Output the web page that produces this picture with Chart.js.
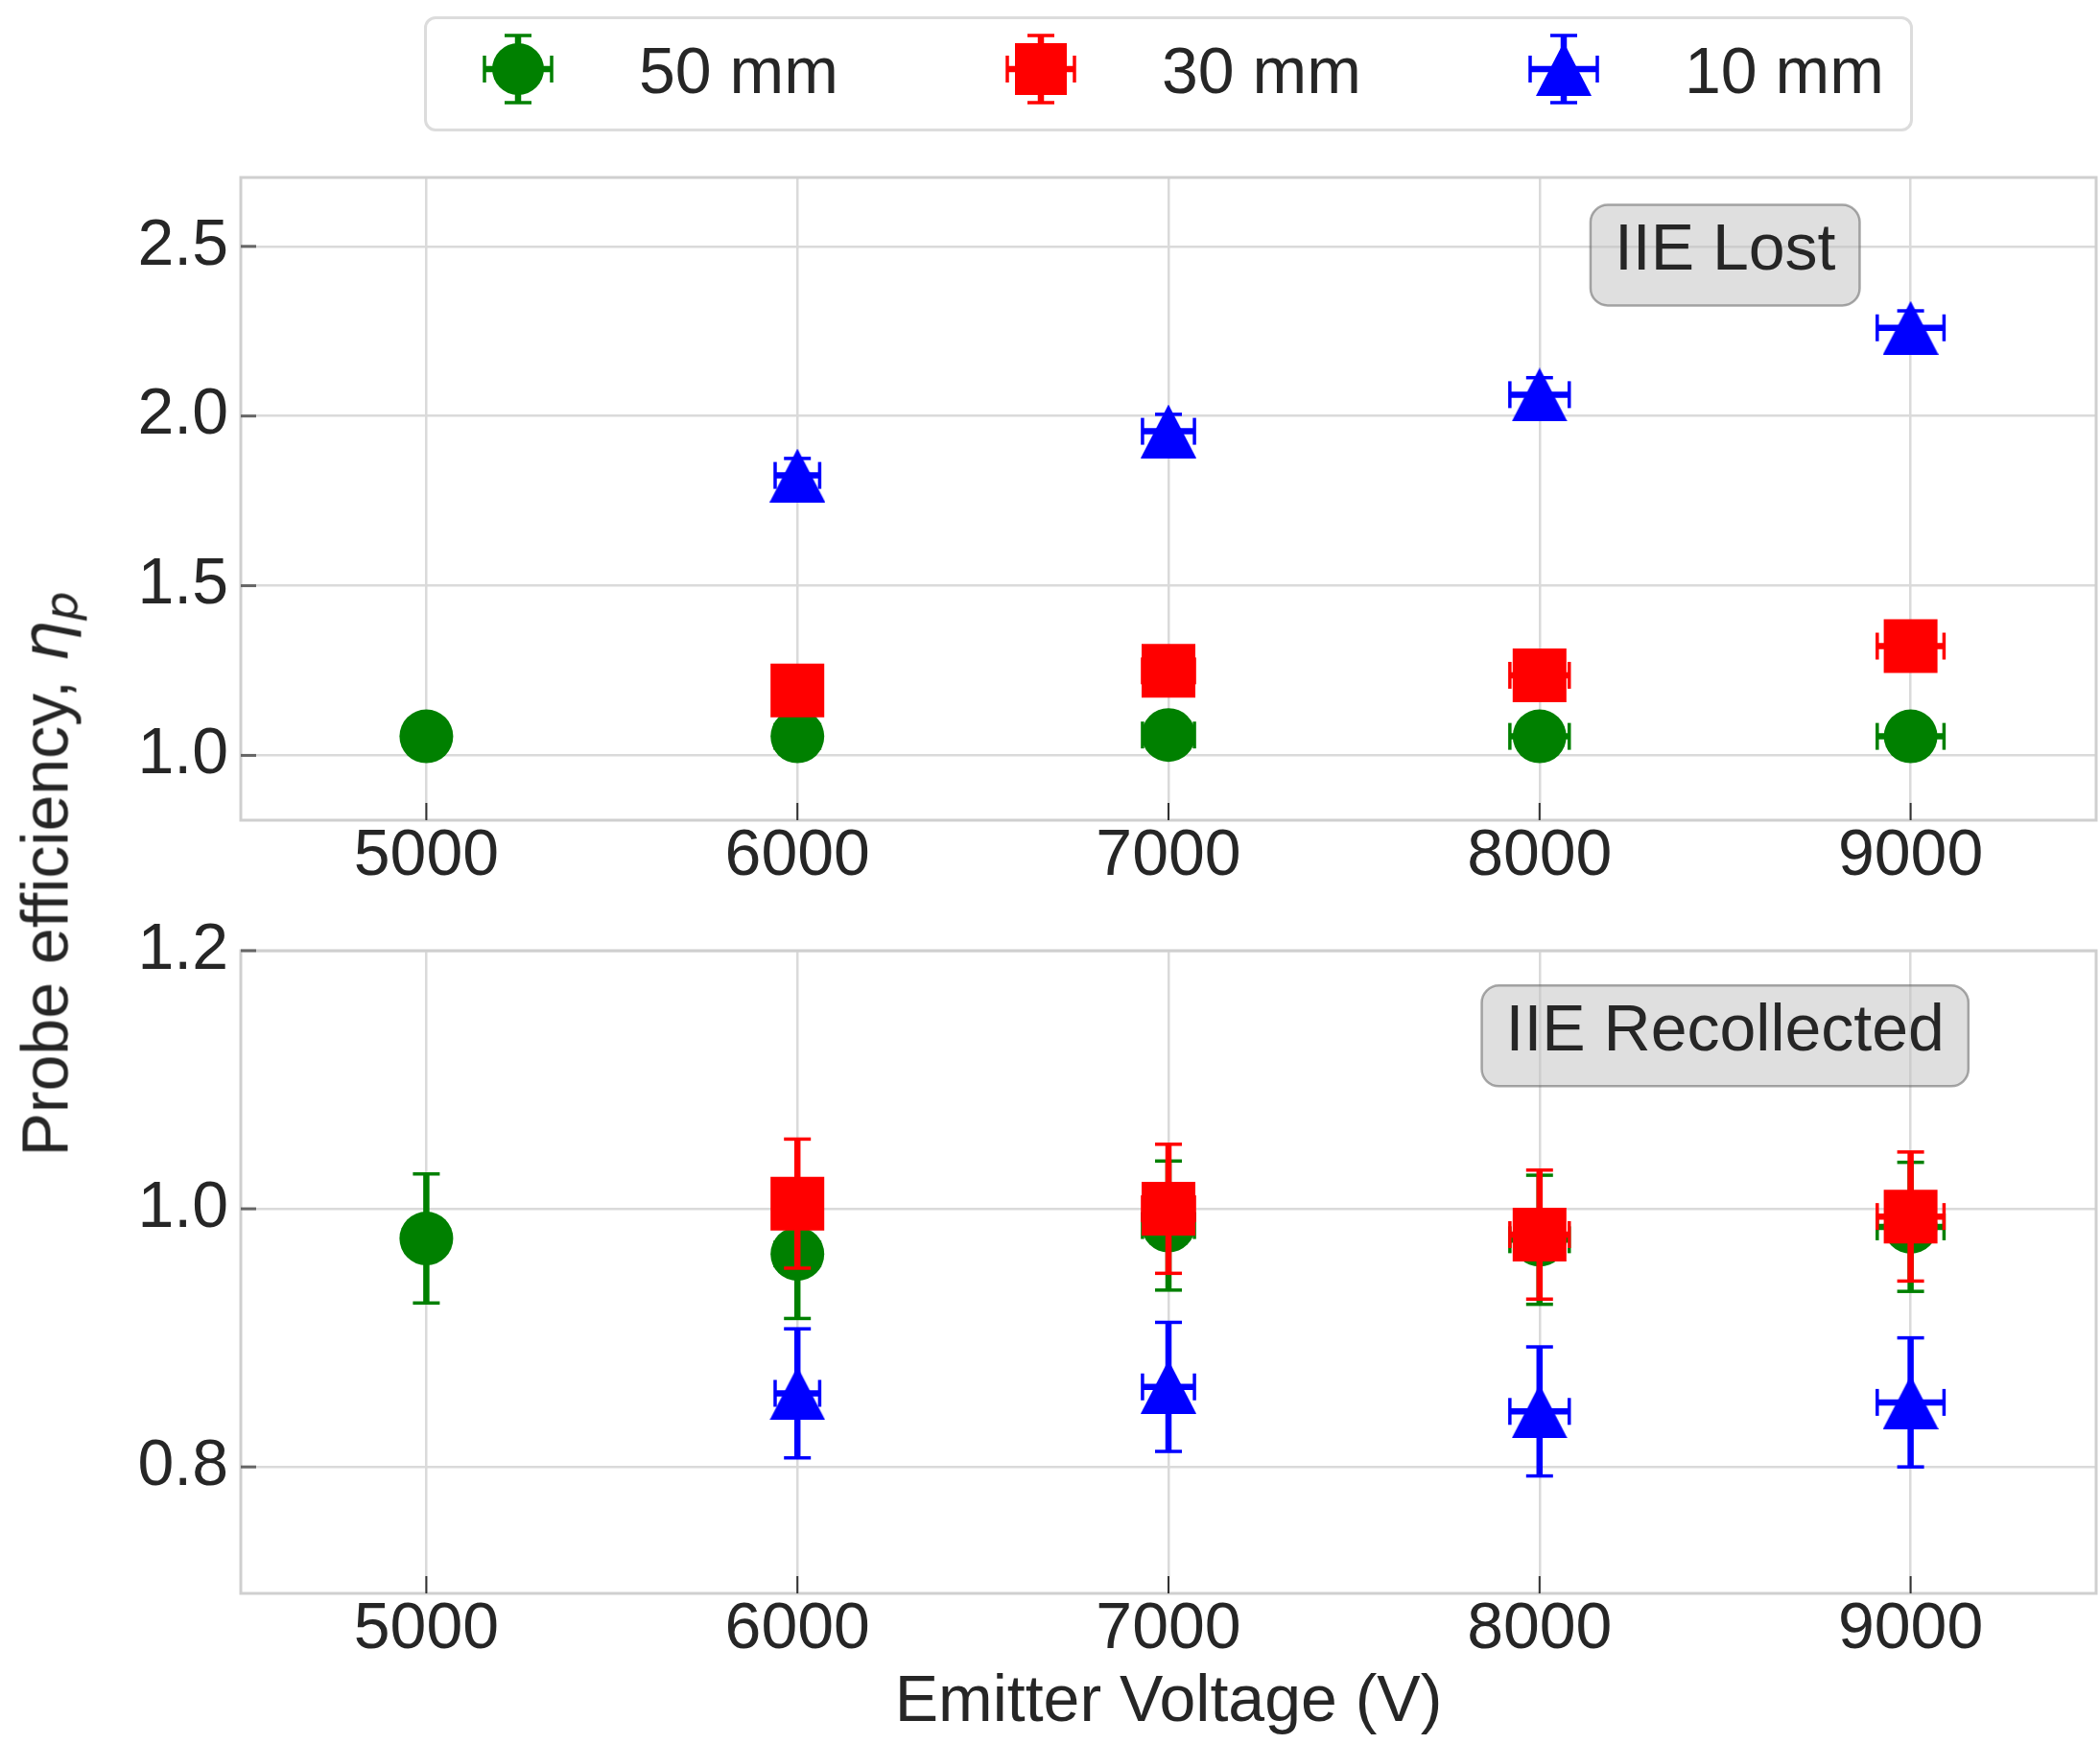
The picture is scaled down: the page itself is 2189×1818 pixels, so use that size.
<!DOCTYPE html>
<html>
<head>
<meta charset="utf-8">
<title>Probe efficiency vs emitter voltage</title>
<script src="https://cdn.jsdelivr.net/npm/chart.js@4.4.1/dist/chart.umd.min.js"></script>
<style>
    body {
        margin: 0;
        background: #fff;
        width: 2189px;
        height: 1818px;
        position: relative;
        overflow: hidden;
        font-family: "Liberation Sans", Arial, sans-serif;
        color: #262626;
    }
    canvas.panel { position: absolute; left: 0; }
    #lostChart { top: 0; }
    #recolChart { top: 940px; }
    #legend {
        position: absolute;
        left: 442px;
        top: 17px;
        width: 1552px;
        height: 120px;
        box-sizing: border-box;
        border: 3px solid #dcdcdc;
        border-radius: 12px;
        background: #fff;
    }
    #legend canvas, #legend span { position: absolute; }
    #legend span { font-size: 68px; line-height: 1; white-space: nowrap; }
    #ylabel {
        position: absolute;
        left: 47px;
        top: 911px;
        transform: translate(-50%, -50%) rotate(-90deg);
        font-size: 68px;
        line-height: 1;
        white-space: nowrap;
    }
    #ylabel .math { font-family: "DejaVu Sans", sans-serif; font-style: italic; }
    #ylabel sub { font-size: 48px; vertical-align: -10px; line-height: 0; }
</style>
</head>
<body>
<div id="legend"></div>
<canvas id="lostChart" class="panel" width="2189" height="940"></canvas>
<canvas id="recolChart" class="panel" width="2189" height="878"></canvas>
<div id="ylabel">Probe efficiency, <span class="math">η<sub>p</sub></span></div>

<script>
// Emitter voltage (V) for each probe distance
const volts50 = [5000, 6000, 7000, 8000, 9000];
const volts30 = [6000, 7000, 8000, 9000];
const volts10 = [6000, 7000, 8000, 9000];

// Top panel: IIE Lost
const lost50 = [1.056, 1.056, 1.060, 1.056, 1.056];
const lost30 = [1.191, 1.249, 1.236, 1.322];
const lost10 = [1.825, 1.955, 2.063, 2.260];

// Bottom panel: IIE Recollected
const recol50 = [0.977, 0.965, 0.987, 0.976, 0.986];
const recol30 = [1.004, 1.000, 0.980, 0.994];
const recol10 = [0.857, 0.862, 0.843, 0.850];

// Error bars (voltage +-, efficiency +-)
const voltErr50 = [50, 60, 70, 80, 90];
const voltErr = [60, 70, 80, 90];
const effErr50 = [0.05, 0.05, 0.05, 0.05, 0.05];
const effErr = [0.05, 0.05, 0.05, 0.05];

// Tick labels
const xTicks = [5000, 6000, 7000, 8000, 9000];
const yTicksLost = [1.0, 1.5, 2.0, 2.5];
const yTicksRecol = [0.8, 1.0, 1.2];

const seriesNames = ['50 mm', '30 mm', '10 mm'];
const seriesColors = ['green', 'red', 'blue'];

const FONT = '"Liberation Sans", Arial, sans-serif';
const TEXT = '#262626';

Chart.defaults.font.family = FONT;
Chart.defaults.font.size = 68;
Chart.defaults.color = TEXT;

function toPoints(xs, ys) {
    return xs.map((x, i) => ({ x: x, y: ys[i] }));
}

// matplotlib-style '^' marker, centred on its bounding box
function makeTriangle(color) {
    const c = document.createElement('canvas');
    c.width = 58;
    c.height = 56;
    const g = c.getContext('2d');
    g.fillStyle = color;
    g.beginPath();
    g.moveTo(29, 0);
    g.lineTo(58, 56);
    g.lineTo(0, 56);
    g.closePath();
    g.fill();
    return c;
}
const triangleBlue = makeTriangle('blue');

function seg(ctx, x0, y0, x1, y1) {
    ctx.beginPath();
    ctx.moveTo(x0, y0);
    ctx.lineTo(x1, y1);
    ctx.stroke();
}

function roundRectPath(ctx, x, y, w, h, r) {
    ctx.beginPath();
    ctx.moveTo(x + r, y);
    ctx.lineTo(x + w - r, y);
    ctx.arcTo(x + w, y, x + w, y + r, r);
    ctx.lineTo(x + w, y + h - r);
    ctx.arcTo(x + w, y + h, x + w - r, y + h, r);
    ctx.lineTo(x + r, y + h);
    ctx.arcTo(x, y + h, x, y + h - r, r);
    ctx.lineTo(x, y + r);
    ctx.arcTo(x, y, x + r, y, r);
    ctx.closePath();
}

const CAP = 14;

function drawCross(ctx, px, py, x0, x1, y0, y1) {
    ctx.lineWidth = 6.5;
    seg(ctx, px, y0, px, y1);
    seg(ctx, x0, py, x1, py);
    ctx.lineWidth = 3.5;
    seg(ctx, px - CAP, y0, px + CAP, y0);
    seg(ctx, px - CAP, y1, px + CAP, y1);
    seg(ctx, x0, py - CAP, x0, py + CAP);
    seg(ctx, x1, py - CAP, x1, py + CAP);
}

// Error bars drawn just before each dataset's markers
const errorBarPlugin = {
    id: 'errorBars',
    beforeDatasetDraw(chart, args) {
        const ds = chart.data.datasets[args.index];
        if (!ds.xErr) return;
        const ctx = chart.ctx;
        const xs = chart.scales.x, ys = chart.scales.y;
        ctx.save();
        ctx.strokeStyle = ds.barColor;
        ds.data.forEach((p, i) => {
            const px = xs.getPixelForValue(p.x);
            const py = ys.getPixelForValue(p.y);
            drawCross(ctx, px, py,
                xs.getPixelForValue(p.x - ds.xErr[i]), xs.getPixelForValue(p.x + ds.xErr[i]),
                ys.getPixelForValue(p.y - ds.yErr[i]), ys.getPixelForValue(p.y + ds.yErr[i]));
        });
        ctx.restore();
    }
};

// Axes frame and inward tick marks
const framePlugin = {
    id: 'frame',
    beforeDatasetsDraw(chart) {
        const ctx = chart.ctx;
        const a = chart.chartArea;
        const xs = chart.scales.x, ys = chart.scales.y;
        ctx.save();
        ctx.strokeStyle = '#cfcfcf';
        ctx.lineWidth = 3;
        ctx.strokeRect(a.left, a.top, a.right - a.left, a.bottom - a.top);
        ctx.strokeStyle = '#333';
        ctx.lineWidth = 2;
        xs.ticks.forEach(t => {
            const px = xs.getPixelForValue(t.value);
            seg(ctx, px, a.bottom, px, a.bottom - 18);
        });
        ctx.strokeStyle = '#666';
        ctx.lineWidth = 3;
        ys.ticks.forEach(t => {
            const py = ys.getPixelForValue(t.value);
            seg(ctx, a.left, py, a.left + 16, py);
        });
        ctx.restore();
    }
};

// Rounded grey label box inside a panel
const boxLabelPlugin = {
    id: 'boxLabel',
    afterDatasetsDraw(chart, args, opts) {
        if (!opts.text) return;
        const ctx = chart.ctx;
        const cx = chart.scales.x.getPixelForValue(opts.x);
        const cy = chart.scales.y.getPixelForValue(opts.y);
        ctx.save();
        ctx.font = '68px ' + FONT;
        const w = ctx.measureText(opts.text).width + 50;
        const h = 105;
        roundRectPath(ctx, cx - w / 2, cy - h / 2, w, h, 18);
        ctx.fillStyle = 'rgba(192, 192, 192, 0.5)';
        ctx.fill();
        ctx.strokeStyle = 'rgba(100, 100, 100, 0.55)';
        ctx.lineWidth = 2.5;
        ctx.stroke();
        ctx.fillStyle = TEXT;
        ctx.textAlign = 'center';
        ctx.textBaseline = 'middle';
        ctx.fillText(opts.text, cx, cy - 4);
        ctx.restore();
    }
};

function buildDatasets(y50, y30, y10) {
    // reverse order so that 10 mm ends up drawn on top, as in the original
    return [
        {
            label: seriesNames[2],
            data: toPoints(volts10, y10),
            xErr: voltErr, yErr: effErr,
            barColor: seriesColors[2],
            backgroundColor: seriesColors[2],
            pointStyle: triangleBlue,
            pointRadius: 29,
            borderWidth: 0
        },
        {
            label: seriesNames[1],
            data: toPoints(volts30, y30),
            xErr: voltErr, yErr: effErr,
            barColor: seriesColors[1],
            backgroundColor: seriesColors[1],
            pointStyle: 'rect',
            pointRadius: 39.6,
            borderWidth: 0
        },
        {
            label: seriesNames[0],
            data: toPoints(volts50, y50),
            xErr: voltErr50, yErr: effErr50,
            barColor: seriesColors[0],
            backgroundColor: seriesColors[0],
            pointStyle: 'circle',
            pointRadius: 28,
            borderWidth: 0
        }
    ];
}

function panelOptions(cfg) {
    return {
        responsive: false,
        animation: false,
        layout: {
            autoPadding: false,
            padding: { top: cfg.padTop, right: 4, left: 0, bottom: 0 }
        },
        plugins: {
            legend: { display: false },
            tooltip: { enabled: false },
            boxLabel: cfg.label
        },
        scales: {
            x: {
                type: 'linear',
                min: 4500,
                max: 9500,
                afterBuildTicks: s => { s.ticks = xTicks.map(v => ({ value: v })); },
                afterFit: s => {
                    s.height = cfg.xHeight;
                    s.paddingLeft = 0;
                    s.paddingRight = 0;
                },
                grid: { color: '#dadada', lineWidth: 2.5, drawTicks: false },
                border: { display: false },
                ticks: {
                    padding: 4,
                    maxRotation: 0,
                    font: { size: 68, lineHeight: 1 },
                    color: TEXT,
                    callback: v => String(v)
                },
                title: cfg.xTitle ? {
                    display: true,
                    text: 'Emitter Voltage (V)',
                    color: TEXT,
                    font: { size: 68, lineHeight: 1 },
                    padding: { top: 0, bottom: 9 }
                } : { display: false }
            },
            y: {
                type: 'linear',
                min: cfg.yMin,
                max: cfg.yMax,
                afterBuildTicks: s => { s.ticks = cfg.yTicks.map(v => ({ value: v })); },
                afterFit: s => {
                    s.width = 251;
                    s.paddingTop = 0;
                    s.paddingBottom = 0;
                },
                grid: { color: '#dadada', lineWidth: 2.5, drawTicks: false },
                border: { display: false },
                ticks: {
                    padding: 13,
                    font: { size: 68, lineHeight: 1 },
                    color: TEXT,
                    callback: v => v.toFixed(1)
                }
            }
        }
    };
}

const plugins = [framePlugin, errorBarPlugin, boxLabelPlugin];

const lostChart = new Chart(document.getElementById('lostChart'), {
    type: 'scatter',
    data: { datasets: buildDatasets(lost50, lost30, lost10) },
    options: panelOptions({
        padTop: 185, xHeight: 85, yMin: 0.809, yMax: 2.703, yTicks: yTicksLost,
        xTitle: false,
        label: { text: 'IIE Lost', x: 8500, y: 2.474 }
    }),
    plugins: plugins
});

const recolChart = new Chart(document.getElementById('recolChart'), {
    type: 'scatter',
    data: { datasets: buildDatasets(recol50, recol30, recol10) },
    options: panelOptions({
        padTop: 51, xHeight: 157, yMin: 0.702, yMax: 1.2, yTicks: yTicksRecol,
        xTitle: true,
        label: { text: 'IIE Recollected', x: 8500, y: 1.134 }
    }),
    plugins: plugins
});

// Legend (marker with error cross + label), built from the series lists
function buildLegend() {
    const box = document.getElementById('legend');
    const shapes = ['circle', 'rect', 'triangle'];
    const firstMarker = 540 - 445;   // relative to the legend's padding box
    const spacing = 545;
    const centerY = 72 - 20;
    seriesNames.forEach((name, i) => {
        const c = document.createElement('canvas');
        c.width = 90;
        c.height = 90;
        const mx = firstMarker + i * spacing;
        c.style.left = (mx - 45) + 'px';
        c.style.top = (centerY - 45) + 'px';
        const g = c.getContext('2d');
        g.strokeStyle = seriesColors[i];
        g.fillStyle = seriesColors[i];
        drawCross(g, 45, 45, 10, 80, 10, 80);
        if (shapes[i] === 'circle') {
            g.beginPath();
            g.arc(45, 45, 27, 0, Math.PI * 2);
            g.fill();
        } else if (shapes[i] === 'rect') {
            g.fillRect(45 - 27, 45 - 27, 54, 54);
        } else {
            g.drawImage(triangleBlue, 45 - 29, 45 - 28);
        }
        box.appendChild(c);

        const s = document.createElement('span');
        s.textContent = name;
        s.style.left = (mx + 126) + 'px';
        s.style.top = (centerY - 33) + 'px';
        box.appendChild(s);
    });
}
buildLegend();
</script>
</body>
</html>
